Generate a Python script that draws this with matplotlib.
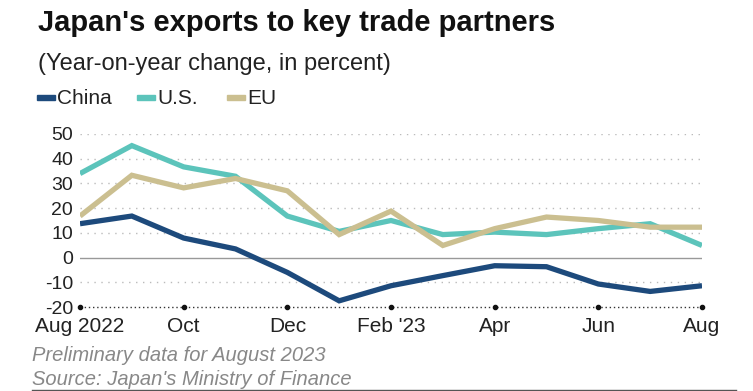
import matplotlib.pyplot as plt
import numpy as np

plt.rcParams['font.family'] = ['Liberation Sans', 'DejaVu Sans']

# Dados (variação anual, %)
months = ['Aug 2022', 'Sep', 'Oct', 'Nov', 'Dec', 'Jan', "Feb '23",
          'Mar', 'Apr', 'May', 'Jun', 'Jul', 'Aug']
china = [13.7, 16.8, 7.9, 3.5, -6.0, -17.5, -11.4, -7.3, -3.3, -3.7, -10.7, -13.7, -11.4]
us = [34.0, 45.3, 36.7, 32.9, 16.8, 10.6, 15.0, 9.3, 10.3, 9.3, 11.7, 13.7, 4.9]
eu = [16.8, 33.3, 28.2, 32.0, 27.0, 9.3, 18.8, 4.9, 11.7, 16.4, 15.0, 12.3, 12.3]
yticks = [50, 40, 30, 20, 10, 0, -10, -20]
xtick_idx = [0, 2, 4, 6, 8, 10, 12]

series = [('China', china, '#1d4a7c'), ('U.S.', us, '#5cc4bb'), ('EU', eu, '#cbbf90')]

fig = plt.figure(figsize=(7.53, 3.91), dpi=100)
ax = fig.add_axes([80 / 753, 1 - 307 / 391, 622 / 753, 173 / 391])

x = np.arange(len(months))

# Grade pontilhada e linha do zero
for y in yticks:
    if y == 0:
        ax.axhline(y, color='#999999', lw=1.0, zorder=1)
    elif y != -20:
        ax.axhline(y, color='#bbbbbb', lw=1.0, ls=(0, (1, 4)), zorder=1)

for name, vals, c in series:
    ax.plot(x, vals, color=c, lw=3.8, solid_joinstyle='miter', solid_capstyle='butt', zorder=3)

ax.set_xlim(0, len(months) - 1)
ax.set_ylim(-20, 50)

# Eixo inferior pontilhado com marcadores nos ticks
ax.axhline(-20, color='#333333', lw=1.0, ls=(0, (1, 2)), zorder=2, clip_on=False)
ax.plot(xtick_idx, [-20] * len(xtick_idx), 'o', color='#111111', ms=3, clip_on=False, zorder=4)

for s in ax.spines.values():
    s.set_visible(False)

ax.set_yticks(yticks)
ax.set_yticklabels([str(v) for v in yticks], fontsize=14, color='#222222')
ax.set_xticks(xtick_idx)
ax.set_xticklabels([months[i] for i in xtick_idx], fontsize=15, color='#222222')
ax.tick_params(axis='both', length=0)
ax.tick_params(axis='y', pad=5)
ax.tick_params(axis='x', pad=7)

# Título, subtítulo e legenda
fig.text(38 / 753, 1 - 31 / 391, "Japan's exports to key trade partners",
         fontsize=21, fontweight='bold', color='#111111', ha='left', va='baseline')
fig.text(38 / 753, 1 - 70 / 391, '(Year-on-year change, in percent)',
         fontsize=17, color='#222222', ha='left', va='baseline')

legend_x = [37, 137, 227]
for (name, vals, c), lx in zip(series, legend_x):
    fig.patches.append(plt.Rectangle((lx / 753, 1 - 100 / 391), 18 / 753, 5 / 391,
                                     transform=fig.transFigure, color=c))
    fig.text((lx + 20) / 753, 1 - 104 / 391, name, fontsize=15, color='#222222',
             ha='left', va='baseline')

# Notas de rodapé
fig.text(32 / 753, 1 - 361 / 391, 'Preliminary data for August 2023',
         fontsize=14.5, style='italic', color='#888888', ha='left', va='baseline')
fig.text(32 / 753, 1 - 385 / 391, "Source: Japan's Ministry of Finance",
         fontsize=14.5, style='italic', color='#888888', ha='left', va='baseline')
fig.add_artist(plt.Line2D([32 / 753, 736 / 753], [1 - 390 / 391] * 2, color='#555555', lw=1.0,
                          transform=fig.transFigure))

fig.savefig('out.png', dpi=100)
